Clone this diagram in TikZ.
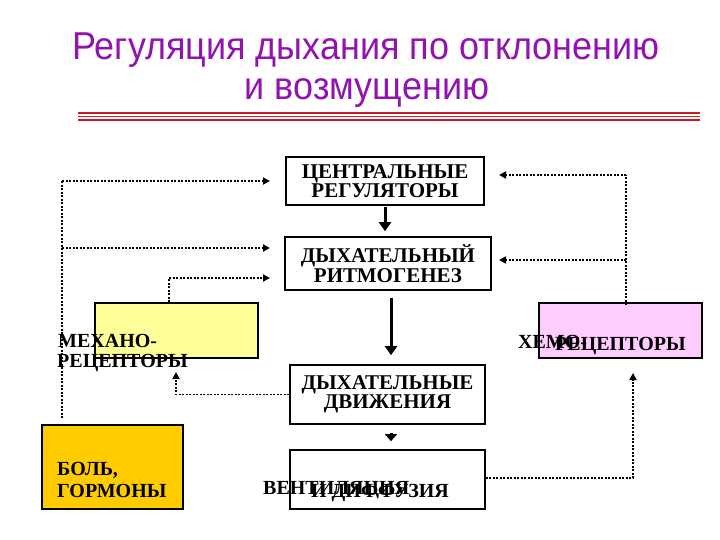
\documentclass[tikz,border=0pt]{standalone}
\usepackage{fontspec}
\setmainfont{Liberation Serif}
\newfontfamily\titlefont{Liberation Sans}
\usetikzlibrary{arrows.meta}
\definecolor{ttl}{RGB}{145,20,175}
\definecolor{yel}{RGB}{255,255,153}
\definecolor{pnk}{RGB}{255,204,255}
\definecolor{org}{RGB}{255,204,0}
\definecolor{rline}{RGB}{205,25,35}
\begin{document}
\begin{tikzpicture}[x=1pt,y=-1pt,
  box/.style={draw=black,line width=1.6pt,rectangle,inner sep=0pt,align=center,
    font=\fontsize{21}{19.5}\bfseries\selectfont},
  lbl/.style={inner sep=0pt,anchor=base west,font=\fontsize{20}{19}\bfseries\selectfont},
  ttlstyle/.style={inner sep=0pt,anchor=base,text=ttl,font=\titlefont\fontsize{36}{40}\selectfont},
  dl/.style={line width=1.8pt,dash pattern=on 2pt off 1.5pt},
  fb/.style={dl,-{Triangle[length=7pt,width=7pt]}},
  mainarr/.style={-{Triangle[length=9pt,width=12pt]},line width=3pt}]
\useasboundingbox (0,0) rectangle (720,540);
% title
\node[ttlstyle] (t1) at (366,60) {\scalebox{1}[1.08]{Регуляция дыхания по отклонению}};
\node[ttlstyle] (t2) at (367,100) {\scalebox{1}[1.08]{и возмущению}};
% red rule
\draw[rline,line width=1.2pt] (78,113) -- (700,113);
\draw[rline,line width=1.6pt] (78,116.5) -- (700,116.5);
\draw[rline,line width=1.2pt] (78,120) -- (700,120);
% boxes
\node[box,minimum width=198pt,minimum height=48pt] (cr) at (385,181) {ЦЕНТРАЛЬНЫЕ\\РЕГУЛЯТОРЫ};
\node[box,minimum width=206pt,minimum height=53pt] (rg) at (388,263.5) {ДЫХАТЕЛЬНЫЙ\\РИТМОГЕНЕЗ};
\node[box,minimum width=195pt,minimum height=59pt] (mv) at (387.5,394.5) {ДЫХАТЕЛЬНЫЕ\\ДВИЖЕНИЯ};
\node[box,minimum width=195pt,minimum height=59pt] (vent) at (387.5,479.5) {};
\node[box,fill=yel,minimum width=163pt,minimum height=55pt] (mech) at (176.5,330.5) {};
\node[box,fill=pnk,minimum width=163pt,minimum height=55pt] (chem) at (620.5,330.5) {};
\node[box,fill=org,minimum width=141pt,minimum height=84pt] (pain) at (112.5,467) {};
% labels
\node[lbl] (m1) at (58,347) {МЕХАНО-};
\node[lbl] (m2) at (57,367) {РЕЦЕПТОРЫ};
\node[lbl] (c1) at (518,348) {ХЕМО-};
\node[lbl] (c2) at (555,350) {РЕЦЕПТОРЫ};
\node[lbl] (p1) at (57,475) {БОЛЬ,};
\node[lbl] (p2) at (57,497) {ГОРМОНЫ};
\node[lbl] (v1) at (263,494) {ВЕНТИЛЯЦИЯ};
\node[lbl,anchor=base east] (v2) at (449,497) {И ДИФФУЗИЯ};
% main arrows
\draw[mainarr,shorten <=1pt,shorten >=5pt] (cr.south) -- (cr.south |- rg.north);
\draw[mainarr,shorten <=7pt,shorten >=9pt] ([xshift=3pt]rg.south) -- ([xshift=3pt]rg.south |- mv.north);
\draw[-{Triangle[length=7pt,width=12pt]},line width=3pt,shorten <=8pt,shorten >=8pt]
  ([xshift=3.5pt]mv.south) -- ([xshift=3.5pt]mv.south |- vent.north);
% feedback coordinates
\coordinate (ltop) at (62,181);
\coordinate (lmid) at (62,248);
\coordinate (lbot) at (62,418);
\coordinate (a1) at (270,181);
\coordinate (a2) at (270,248);
\coordinate (a3) at (270,278);
\coordinate (rtop) at (626,175);
\coordinate (rmid) at (626,260);
\coordinate (b1) at (499,175);
\coordinate (b2) at (499,260);
\coordinate (b3) at (633,373);
\coordinate (b4) at (176,372);
% feedback connectors
\draw[dl] (lbot) -- (ltop);
\draw[fb] (ltop) -- (a1);
\draw[fb] (lmid) -- (a2);
\draw[fb] ([xshift=-7.5pt]mech.north) |- (a3);
\draw[dl] ([xshift=5.5pt,yshift=-3pt]chem.north) -- (rtop);
\draw[fb] (rtop) -- (b1);
\draw[fb] (rmid) -- (b2);
\draw[fb] ([yshift=1.5pt]vent.east) -| (b3);
\draw[fb] (mv.west) -| (b4);
\end{tikzpicture}
\end{document}
